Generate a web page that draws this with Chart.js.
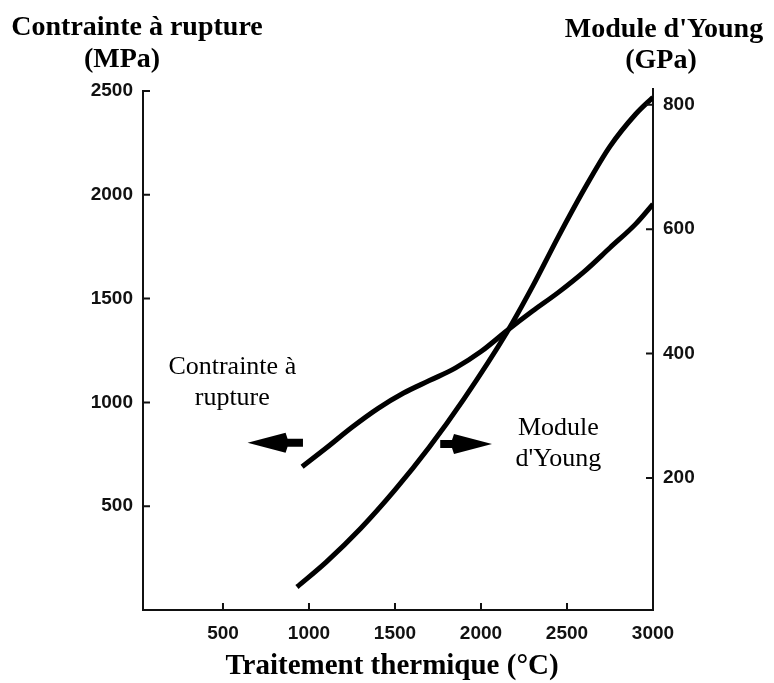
<!DOCTYPE html>
<html>
<head>
<meta charset="utf-8">
<script src="https://cdn.jsdelivr.net/npm/chart.js@4.4.0/dist/chart.umd.min.js"></script>
<style>
	html, body { margin: 0; padding: 0; background: #fff; }
	#wrap { width: 774px; height: 683px; position: relative; }
</style>
</head>
<body>
<div id="wrap"><canvas id="chart"></canvas></div>
<script>
// Données
const tempContrainte = [960, 1100, 1250, 1400, 1550, 1700, 1850, 2000, 2150, 2300, 2450, 2600, 2750, 2900, 3000];
const contrainte = [690, 780, 880, 970, 1045, 1105, 1165, 1245, 1345, 1440, 1530, 1630, 1745, 1860, 1955];

const tempModule = [930, 1100, 1300, 1500, 1700, 1900, 2150, 2300, 2450, 2600, 2750, 2900, 3000];
const moduleYoung = [25, 65, 119, 181, 250, 327, 434, 508, 588, 664, 733, 785, 812];

const xTicks = [500, 1000, 1500, 2000, 2500, 3000];
const leftTicks = [500, 1000, 1500, 2000, 2500];
const rightTicks = [200, 400, 600, 800];

// Annotations (en unités des axes : x en °C, y en MPa)
const labelContrainte = { x: 554, y: 1137, lines: ['Contrainte à', 'rupture'] };
const labelModule = { x: 2450, y: 843, lines: ['Module', "d'Young"] };
const arrowLeft = { from: 965, to: 643, y: 806 };
const arrowRight = { from: 1763, to: 2064, y: 800 };

const tickFont = { family: '"Liberation Sans", Arial, sans-serif', size: 19, weight: 'bold' };

function toPoints(xs, ys) {
	return xs.map((x, i) => ({ x: x, y: ys[i] }));
}

// Petites graduations tournées vers l'intérieur
const innerTicks = {
	id: 'innerTicks',
	afterDraw(chart) {
		const ctx = chart.ctx;
		const area = chart.chartArea;
		const len = 7;
		ctx.save();
		ctx.strokeStyle = '#111';
		ctx.lineWidth = 2;
		ctx.beginPath();
		xTicks.forEach(v => {
			const px = chart.scales.x.getPixelForValue(v);
			ctx.moveTo(px, area.bottom);
			ctx.lineTo(px, area.bottom - len);
		});
		leftTicks.forEach(v => {
			const py = chart.scales.y.getPixelForValue(v);
			ctx.moveTo(area.left, py);
			ctx.lineTo(area.left + len, py);
		});
		rightTicks.forEach(v => {
			const py = chart.scales.y1.getPixelForValue(v);
			ctx.moveTo(area.right, py);
			ctx.lineTo(area.right - len, py);
		});
		// l'axe de droite dépasse un peu vers le haut
		ctx.moveTo(area.right, area.top);
		ctx.lineTo(area.right, area.top - 3);
		ctx.stroke();
		ctx.restore();
	}
};

// Titres, étiquettes et flèches
const annotations = {
	id: 'annotations',
	afterDraw(chart) {
		const ctx = chart.ctx;
		const sx = chart.scales.x;
		const sy = chart.scales.y;
		ctx.save();
		ctx.fillStyle = '#000';
		ctx.textAlign = 'center';
		ctx.textBaseline = 'alphabetic';

		ctx.font = 'bold 28px "Liberation Serif", "Times New Roman", serif';
		ctx.fillText('Contrainte à rupture', 137, 35);
		ctx.fillText('(MPa)', 122, 67);
		ctx.fillText("Module d'Young", 664, 37);
		ctx.fillText('(GPa)', 661, 68);

		ctx.font = 'bold 29px "Liberation Serif", "Times New Roman", serif';
		ctx.fillText('Traitement thermique (°C)', 392, 674);

		ctx.font = '26px "Liberation Serif", "Times New Roman", serif';
		[labelContrainte, labelModule].forEach(lb => {
			const px = sx.getPixelForValue(lb.x);
			const py = sy.getPixelForValue(lb.y);
			lb.lines.forEach((t, i) => ctx.fillText(t, px, py + i * 31));
		});

		[arrowLeft, arrowRight].forEach(a => {
			const x0 = sx.getPixelForValue(a.from);
			const x1 = sx.getPixelForValue(a.to);
			const y = sy.getPixelForValue(a.y);
			const dir = x1 > x0 ? 1 : -1;
			const head = 40;
			const hx = x1 - dir * head;
			ctx.beginPath();
			ctx.moveTo(x0, y - 4);
			ctx.lineTo(hx, y - 4);
			ctx.lineTo(hx + dir * 2, y - 10);
			ctx.lineTo(x1, y);
			ctx.lineTo(hx + dir * 2, y + 10);
			ctx.lineTo(hx, y + 4);
			ctx.lineTo(x0, y + 4);
			ctx.closePath();
			ctx.fill();
		});
		ctx.restore();
	}
};

new Chart(document.getElementById('chart'), {
	type: 'line',
	data: {
		datasets: [
			{
				label: 'Contrainte à rupture',
				data: toPoints(tempContrainte, contrainte),
				yAxisID: 'y',
				borderColor: '#000',
				borderWidth: 5,
				pointRadius: 0,
				cubicInterpolationMode: 'monotone',
				fill: false
			},
			{
				label: "Module d'Young",
				data: toPoints(tempModule, moduleYoung),
				yAxisID: 'y1',
				borderColor: '#000',
				borderWidth: 5,
				pointRadius: 0,
				cubicInterpolationMode: 'monotone',
				fill: false
			}
		]
	},
	options: {
		responsive: true,
		maintainAspectRatio: false,
		devicePixelRatio: 1,
		animation: false,
		layout: { padding: { top: 91, left: 0, right: 0, bottom: 0 } },
		plugins: {
			legend: { display: false },
			tooltip: { enabled: false }
		},
		scales: {
			x: {
				type: 'linear',
				min: 35,
				max: 3000,
				afterBuildTicks: s => { s.ticks = xTicks.map(v => ({ value: v })); },
				afterFit: s => { s.height = 73; },
				grid: { display: false, drawTicks: false },
				border: { display: true, color: '#111', width: 2 },
				ticks: { font: tickFont, color: '#111', padding: 12, maxRotation: 0, callback: v => String(v) }
			},
			y: {
				type: 'linear',
				position: 'left',
				min: 0,
				max: 2500,
				afterBuildTicks: s => { s.ticks = leftTicks.map(v => ({ value: v })); },
				afterFit: s => { s.width = 143; },
				grid: { display: false, drawTicks: false },
				border: { display: true, color: '#111', width: 2 },
				ticks: { font: tickFont, color: '#111', padding: 10, callback: v => String(v) }
			},
			y1: {
				type: 'linear',
				position: 'right',
				min: -12,
				max: 822,
				afterBuildTicks: s => { s.ticks = rightTicks.map(v => ({ value: v })); },
				afterFit: s => { s.width = 121; },
				grid: { display: false, drawTicks: false },
				border: { display: true, color: '#111', width: 2 },
				ticks: { font: tickFont, color: '#111', padding: 10, callback: v => String(v) }
			}
		}
	},
	plugins: [innerTicks, annotations]
});
</script>
</body>
</html>
